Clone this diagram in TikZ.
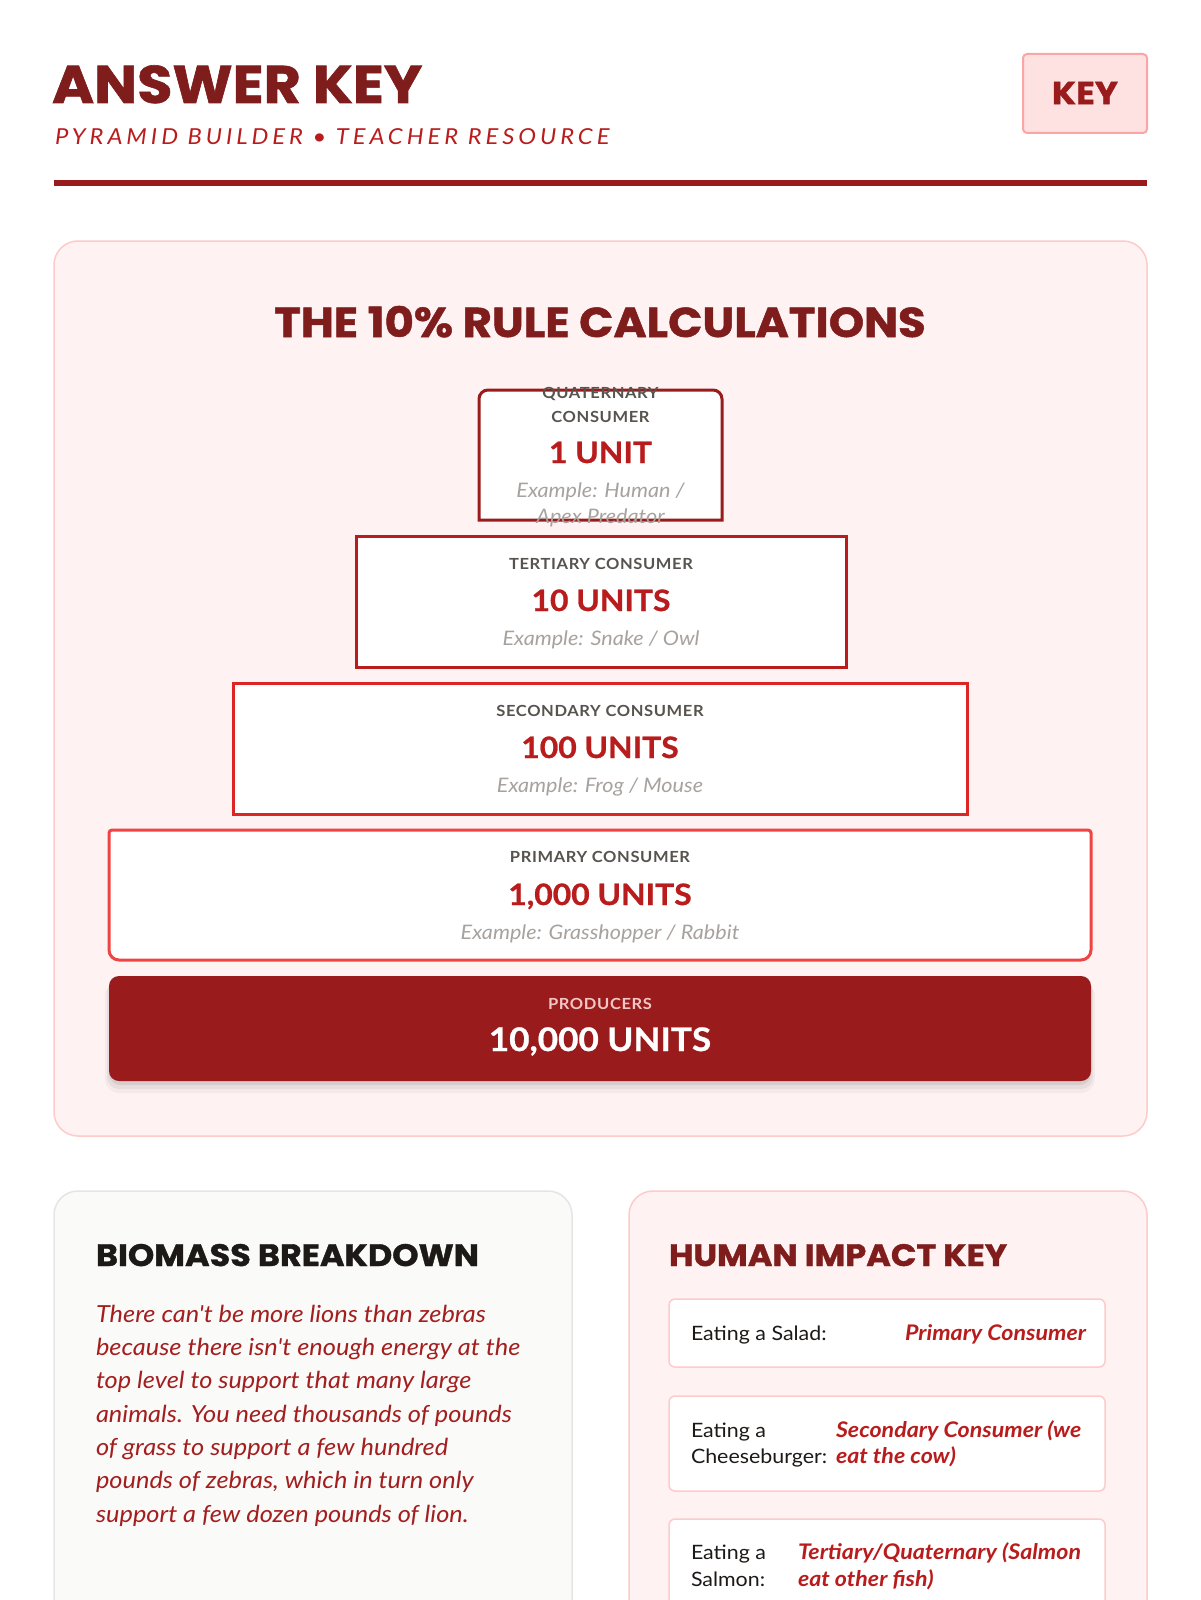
\documentclass[tikz,border=0pt]{standalone}
\usepackage{fontspec}
\setmainfont{Lato}[FakeStretch=1.08]
\newfontfamily\headfont{Poppins}[FakeStretch=1.08,BoldFeatures={FakeBold=1.2}]
\newfontfamily\unitfont{Lato}[FakeStretch=1.08,BoldFeatures={FakeBold=0.8}]
\newfontfamily\bodyfont{Lato}[FakeStretch=1.08,Ligatures=TeXOff]
\newfontfamily\subfont{Lato}[FakeStretch=1.08,LetterSpace=18]
\newfontfamily\lblfont{Lato}[FakeStretch=1.08,LetterSpace=4]
\newcommand\setfs[1]{\fontsize{#1}{#1}\selectfont}
\definecolor{titlered}{HTML}{7F1D1D}
\definecolor{rulered}{HTML}{991B1B}
\definecolor{subred}{HTML}{B91C1C}
\definecolor{panelfill}{HTML}{FEF2F2}
\definecolor{panelline}{HTML}{FECACA}
\definecolor{keyfill}{HTML}{FEE2E2}
\definecolor{keyline}{HTML}{FCA5A5}
\definecolor{lblgrey}{HTML}{57534E}
\definecolor{exgrey}{HTML}{A8A29E}
\definecolor{unitred}{HTML}{B91C1C}
\definecolor{qline}{HTML}{991B1B}
\definecolor{tline}{HTML}{B91C1C}
\definecolor{sline}{HTML}{DC2626}
\definecolor{pline}{HTML}{EF4444}
\definecolor{prodred}{HTML}{991B1B}
\definecolor{prodlbl}{HTML}{F3C6C6}
\definecolor{bioFill}{HTML}{FAFAF9}
\definecolor{bioLine}{HTML}{E7E5E4}
\definecolor{ink}{HTML}{1C1917}
\definecolor{bodyred}{HTML}{A31F1F}
\begin{document}
\begin{tikzpicture}[x=1pt,y=-1pt,
  txt/.style={inner sep=0pt, outer sep=0pt},
  lbl/.style={txt, anchor=base, text=lblgrey, font=\lblfont\bfseries\setfs{15.3}},
  units/.style={txt, anchor=base, text=unitred, font=\unitfont\bfseries\setfs{29.5}},
  example/.style={txt, anchor=base, text=exgrey, font=\itshape\setfs{20}},
  heading/.style={txt, anchor=base west, font=\headfont\bfseries\setfs{31}},
  body/.style={txt, anchor=base west, text=bodyred, font=\bodyfont\itshape\setfs{23.5}},
  ilabel/.style={txt, anchor=base west, text=ink, font=\setfs{19.8}},
  ivalue/.style={txt, anchor=base west, text=subred, font=\unitfont\bfseries\itshape\setfs{21.5}},
  rowbox/.style={draw=panelline, line width=1.5pt, fill=white, rounded corners=6pt}
]
\clip (0,0) rectangle (1200,1600);
\fill[white] (0,0) rectangle (1200,1600);

% ---------- header ----------
\node[txt, anchor=base west, text=titlered, font=\headfont\bfseries\setfs{53}] (title) at (52,103) {ANSWER KEY};
\node[txt, anchor=base west, text=subred, font=\subfont\itshape\setfs{22}] (subtitle) at (55,145) {PYRAMID BUILDER • TEACHER RESOURCE};
\fill[rulered] (54,180) rectangle (1147,186);
\draw[draw=keyline, line width=2pt, fill=keyfill, rounded corners=4pt] (1023,54) rectangle (1147,133);
\node[txt, text=rulered, font=\headfont\bfseries\setfs{32}] (key) at (1085,93) {KEY};

% ---------- main panel ----------
\draw[draw=panelline, line width=1.5pt, fill=panelfill, rounded corners=24pt] (54,241) rectangle (1147,1136);
\node[txt, anchor=base, text=titlered, font=\headfont\bfseries\setfs{41.7}] (ruletitle) at (600,337) {THE 10\% RULE CALCULATIONS};

% quaternary
\draw[qline, line width=3pt, fill=white] (479,520) [rounded corners=9pt] -- (479,390) -- (722,390) -- (722,420) [sharp corners] -- (722,520) -- cycle;
\node[lbl] (q1) at (600.5,398) {QUATERNARY};
\node[lbl] (q2) at (600.5,422) {CONSUMER};
\node[units] (qu) at (600.5,463) {1 UNIT};
\node[example] (qe1) at (600.5,497) {Example: Human /};
\node[example] (qe2) at (600.5,523) {Apex Predator};

% tertiary
\draw[tline, line width=3pt, fill=white] (356,536) rectangle (846,667);
\node[lbl] (t1) at (601,569) {TERTIARY CONSUMER};
\node[units] (tu) at (601,611) {10 UNITS};
\node[example] (te) at (601,645) {Example: Snake / Owl};

% secondary
\draw[sline, line width=3pt, fill=white] (233,683) rectangle (967,814);
\node[lbl] (s1) at (600,716) {SECONDARY CONSUMER};
\node[units] (su) at (600,758) {100 UNITS};
\node[example] (se) at (600,792) {Example: Frog / Mouse};

% primary
\draw[pline, line width=3pt, fill=white] (109,900) [rounded corners=3pt] -- (109,830) -- (1091,830) -- (1091,900) [rounded corners=10pt] -- (1091,960) -- (109,960) -- (109,900);
\node[lbl] (p1) at (600,862) {PRIMARY CONSUMER};
\node[units] (pu) at (600,905) {1,000 UNITS};
\node[example] (pe) at (600,939) {Example: Grasshopper / Rabbit};

% producers (soft shadow below, then the bar)
\fill[black, opacity=0.035, rounded corners=14pt] (105,982) rectangle (1095,1093);
\fill[black, opacity=0.05, rounded corners=12pt] (107,980) rectangle (1093,1089);
\fill[black, opacity=0.07, rounded corners=11pt] (109,978) rectangle (1091,1085);
\fill[prodred, rounded corners=10pt] (109,976) rectangle (1091,1081);
\node[lbl, text=prodlbl] (pr1) at (600,1009) {PRODUCERS};
\node[units, text=white, font=\unitfont\bfseries\setfs{32.5}] (pru) at (600,1051) {10,000 UNITS};

% ---------- biomass panel ----------
\draw[draw=bioLine, line width=1.5pt, fill=bioFill, rounded corners=24pt] (54,1191) rectangle (572,1700);
\node[heading, text=ink] (bh) at (96,1266) {BIOMASS BREAKDOWN};
\node[body] (b1) at (96,1322) {There can't be more lions than zebras};
\node[body] (b2) at (96,1355) {because there isn't enough energy at the};
\node[body] (b3) at (96,1388) {top level to support that many large};
\node[body] (b4) at (96,1422) {animals. You need thousands of pounds};
\node[body] (b5) at (96,1455) {of grass to support a few hundred};
\node[body] (b6) at (96,1488) {pounds of zebras, which in turn only};
\node[body] (b7) at (96,1522) {support a few dozen pounds of lion.};

% ---------- human impact panel ----------
\draw[draw=panelline, line width=1.5pt, fill=panelfill, rounded corners=24pt] (629,1191) rectangle (1147,1700);
\node[heading, text=titlered] (hh) at (669,1266) {HUMAN IMPACT KEY};

\draw[rowbox] (669,1299) rectangle (1105,1367);
\node[ilabel] (r1l) at (691,1340) {Eating a Salad:};
\node[ivalue] (r1v) at (905,1340) {Primary Consumer};

\draw[rowbox] (669,1396) rectangle (1105,1491);
\node[ilabel] (r2l1) at (691,1437) {Eating a};
\node[ilabel] (r2l2) at (691,1463) {Cheeseburger:};
\node[ivalue] (r2v1) at (836,1437) {Secondary Consumer (we};
\node[ivalue] (r2v2) at (836,1463) {eat the cow)};

\draw[rowbox] (669,1519) rectangle (1105,1650);
\node[ilabel] (r3l1) at (691,1559) {Eating a};
\node[ilabel] (r3l2) at (691,1586) {Salmon:};
\node[ivalue] (r3v1) at (798,1559) {Tertiary/Quaternary (Salmon};
\node[ivalue] (r3v2) at (798,1586) {eat other fish)};
\end{tikzpicture}
\end{document}
